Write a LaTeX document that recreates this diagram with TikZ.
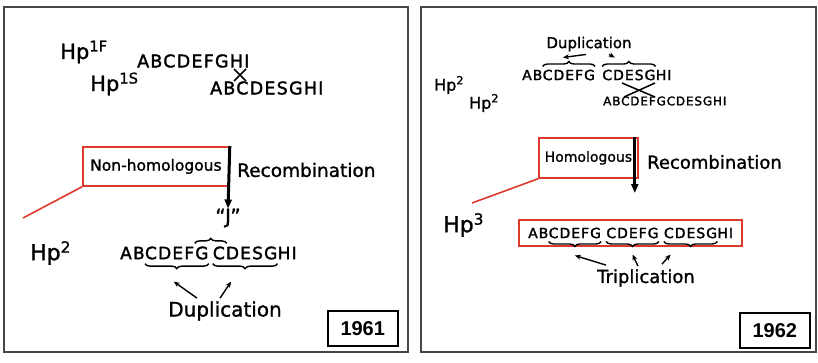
\documentclass[tikz,border=0pt]{standalone}
\usepackage{fontspec}
\setmainfont{DejaVu Sans}
\newfontfamily\handfont[FakeBold=1.2,Ligatures=TeX]{DejaVu Sans}
\newfontfamily\seqfont[LetterSpace=7,FakeBold=1.8]{DejaVu Sans}
\newfontfamily\yearfont{Liberation Sans}
\usetikzlibrary{positioning,arrows.meta,decorations.pathreplacing,calc,fit}

\definecolor{hpred}{RGB}{220,58,44}
\definecolor{framegray}{RGB}{70,70,70}

\tikzset{
  hand/.style={font=\handfont\fontsize{#1}{#1}\selectfont, inner sep=0pt},
  seq/.style={font=\seqfont\fontsize{#1}{#1}\selectfont, inner sep=0pt},
  panel/.style={draw=framegray, line width=1.8pt},
  redbox/.style={draw=hpred, line width=1.8pt},
  redline/.style={draw=hpred, line width=1.6pt},
  yearbox/.style={draw, line width=1.5pt, font=\yearfont\bfseries\fontsize{20}{20}\selectfont,
    minimum width=70pt, minimum height=35pt, inner sep=0pt},
  recarrow/.style={-{Triangle[length=9pt,width=7pt]}, line width=3pt},
  handarrow/.style={-{Stealth[length=6pt,width=5pt]}, line width=1.4pt},
  upbrace/.style={decorate, decoration={brace, amplitude=5pt}, line width=1.4pt},
  crossline/.style={line width=1.5pt},
}

\begin{document}
\begin{tikzpicture}[x=1pt,y=-1pt]
  \useasboundingbox (0,0) rectangle (818,362);

  % Panel frames
  \draw[panel] (4,7) rectangle (408,352);
  \draw[panel] (421,7) rectangle (816,352);

  % ===== 1961 =====
  % Parental chromosomes
  \node[hand=21, anchor=west] (hp1f) at (60,52) {Hp\textsuperscript{1F}};
  \node[hand=21, anchor=west] (hp1s) at (90,84) {Hp\textsuperscript{1S}};
  \node[seq=17.5, anchor=west] (chrF) at (137,61) {ABCDEFGHI};
  \node[seq=17.5, anchor=west] (chrS) at (210,88) {ABCDESGHI};
  \draw[crossline] (234,69) -- (246,81) (246,69) -- (234,81);

  % Recombination step
  \node[redbox, hand=15.5, minimum width=146pt, minimum height=39pt, anchor=north west] (nonhom) at (82,146) {Non-homologous};
  \node[hand=18.5, anchor=west] (rec1) at (237,170) {Recombination};
  \node[hand=20] (jlab) at (228,218) {“J”};
  \draw[recarrow] (nonhom.north east) -- (jlab.north);
  \coordinate (hp2tail) at (23,218);
  \draw[redline] (hp2tail) -- (nonhom.south west);
  \node[hand=22, anchor=west] (hp2) at (30,253) {Hp\textsuperscript{2}};

  % Hp2 chromosome with duplication
  \node[seq=17, anchor=west] (dAB) at (120,253) {AB};
  \node[seq=17, right=0pt of dAB] (dC1) {CDEFG};
  \node[seq=17, right=4pt of dC1] (dC2) {CDESG};
  \node[seq=17, right=0pt of dC2] (dHI) {HI};
  \draw[upbrace] ($(dC1.north east)+(-14,-3)$) -- ($(dC2.north west)+(14,-3)$);
  \draw[upbrace] ($(dC1.south east)+(0,4)$) -- ($(dC1.south west)+(0,4)$);
  \draw[upbrace] ($(dC2.south east)+(0,4)$) -- ($(dC2.south west)+(0,4)$);
  \node[hand=20] (dup1) at (225,311) {Duplication};
  \draw[handarrow] ($(dup1.north)+(-28,-3)$) -- ($(dC1.south)+(-3,22)$);
  \draw[handarrow] ($(dup1.north)+(-5,-3)$) -- ($(dC2.south)+(-14,22)$);

  \node[yearbox, anchor=north west] (y1961) at (327,310) {1961};

  % ===== 1962 =====
  \node[hand=16, anchor=west] (hp2a) at (434,85) {Hp\textsuperscript{2}};
  \node[hand=16, anchor=west] (hp2b) at (469,103) {Hp\textsuperscript{2}};

  % Hp2 chromosomes
  \node[hand=15] (dup2) at (589,44) {Duplication};
  \node[seq=14, anchor=west] (tAB) at (522,75) {AB};
  \node[seq=14, right=0pt of tAB] (tC1) {CDEFG};
  \node[seq=14, right=7pt of tC1] (tC2) {CDESG};
  \node[seq=14, right=0pt of tC2] (tHI) {HI};
  \draw[upbrace] ($(tC1.north west)+(0,-3)$) -- ($(tC1.north east)+(0,-3)$);
  \draw[upbrace] ($(tC2.north west)+(0,-3)$) -- ($(tC2.north east)+(0,-3)$);
  \draw[handarrow] ($(dup2.south)+(-3,3)$) -- ($(tC1.north)+(-6,-12)$);
  \draw[handarrow] ($(dup2.south)+(20,3)$) -- ($(tC2.north)+(-14,-12)$);
  \node[seq=12, anchor=west] (chr2b) at (603,101) {ABCDEFGCDESGHI};
  \draw[crossline] (622,83) -- (655,97) (655,83) -- (624,97);

  % Recombination step
  \node[redbox, hand=14, minimum width=99pt, minimum height=40pt, anchor=north west] (hom) at (538,137) {Homologous};
  \node[hand=18, anchor=west] (rec2) at (647,162) {Recombination};
  \coordinate (homend) at ($(hom.north east)+(-4,56)$);
  \draw[recarrow] ($(hom.north east)+(-4,0)$) -- (homend);
  \coordinate (hp3tail) at (472,203);
  \draw[redline] (hp3tail) -- (hom.south west);
  \node[hand=22, anchor=west] (hp3) at (443,225) {Hp\textsuperscript{3}};

  % Hp3 chromosome with triplication
  \node[seq=14, anchor=west] (pAB) at (528,233) {AB};
  \node[seq=14, right=0pt of pAB] (pC1) {CDEFG};
  \node[seq=14, right=5pt of pC1] (pC2) {CDEFG};
  \node[seq=14, right=5pt of pC2] (pC3) {CDESG};
  \node[seq=14, right=0pt of pC3] (pHI) {HI};
  \node[redbox, fit=(pAB)(pHI), inner xsep=9pt, inner ysep=8pt] (tripbox) {};
  \foreach \s in {pC1,pC2,pC3}
    \draw[upbrace] ($(\s.south east)+(0,3)$) -- ($(\s.south west)+(0,3)$);
  \node[hand=18] (trip) at (646,278) {Triplication};
  \draw[handarrow] ($(trip.north)+(-40,-4)$) -- ($(pC1.south)+(0,17)$);
  \draw[handarrow] ($(trip.north)+(-8,-3)$) -- ($(pC2.south)+(0,16)$);
  \draw[handarrow] ($(trip.north)+(16,-5)$) -- ($(pC3.south)+(-20,16)$);

  \node[yearbox, anchor=north west] (y1962) at (739,312) {1962};
\end{tikzpicture}
\end{document}
